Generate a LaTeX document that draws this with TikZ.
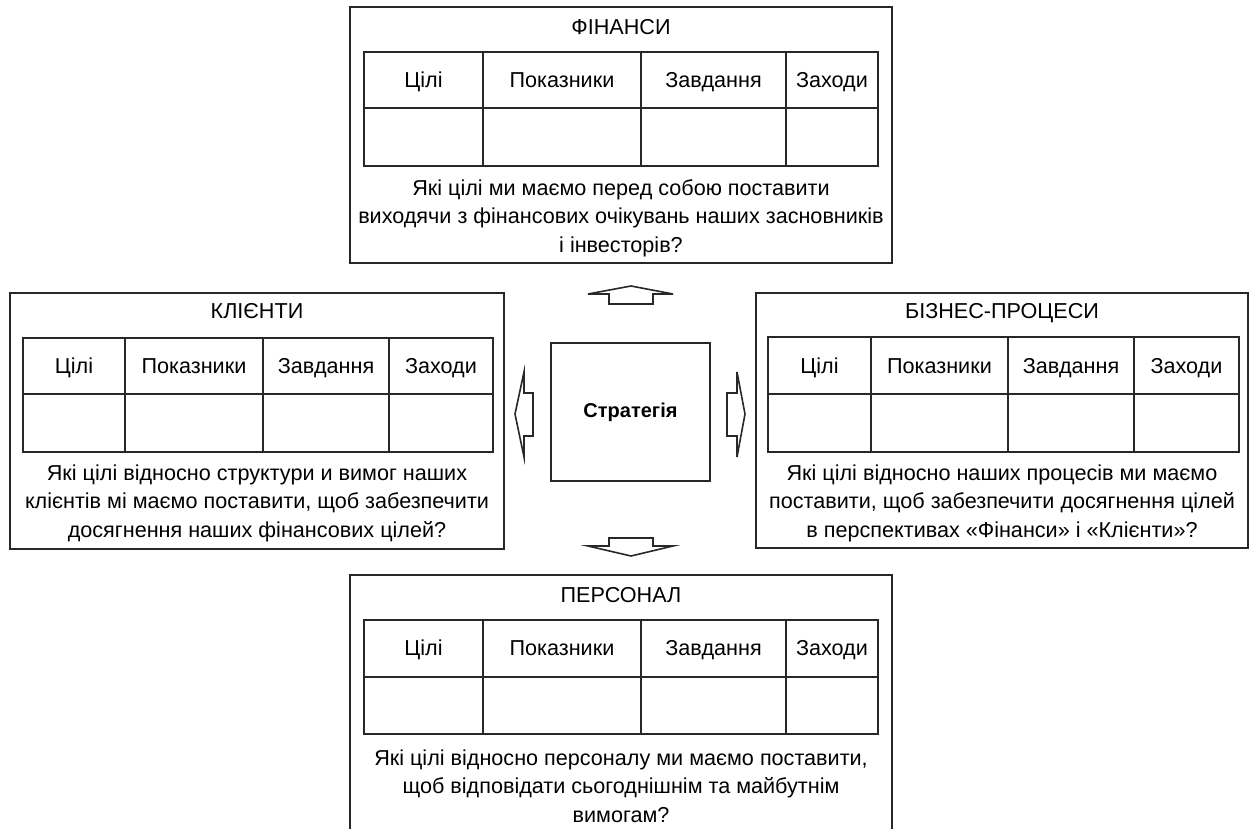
\documentclass[tikz,border=0pt]{standalone}
\usepackage{fontspec}
\setmainfont{Liberation Sans}
\usetikzlibrary{positioning}
\definecolor{lineGray}{RGB}{40,40,40}
\tikzset{
  panel/.style={draw=lineGray,line width=1pt},
  grid line/.style={draw=lineGray,line width=1.25pt},
  block arrow/.style={draw=lineGray,line width=.8pt,line join=miter},
  persp title/.style={font=\fontsize{10.8}{14.25}\selectfont,text height=1.4ex,text depth=0pt,inner sep=0pt},
  cell head/.style={font=\fontsize{10.8}{14.25}\selectfont,text height=1.4ex,text depth=0pt,inner sep=0pt},
  question/.style={align=center,font=\fontsize{10.8}{14.25}\selectfont,inner sep=0pt},
  strategy/.style={panel,minimum width=79.5pt,minimum height=69pt,inner sep=0pt,font=\fontsize{10}{12}\selectfont\bfseries}
}
\begin{document}
\begin{tikzpicture}[x=.5pt,y=-.5pt]
        \useasboundingbox (0,0) rectangle (1249,829);
        % centre
        \node[strategy] (strat) at (630.5,412) {Стратегія};
        % top: finance
        \draw[panel] (350,7) rectangle (892,263);
        \node[persp title] (finTitle) at (621,27) {ФІНАНСИ};
        \draw[grid line] (364,52) rectangle (878,166);
        \draw[grid line] (364,108) -- (878,108);
        \foreach \c in {483,641,786}
          \draw[grid line] (\c,52) -- (\c,166);
        \foreach \x/\t [count=\i] in {423.5/Цілі,562/Показники,713.5/Завдання,832/Заходи}
          \node[cell head] (fin\i) at (\x,80) {\t};
        \node[question] (finQ) at (621,218) {Які цілі ми маємо перед собою поставити\\виходячи з фінансових очікувань наших засновників\\і інвесторів?};
        % left: clients
        \draw[panel] (10,293) rectangle (504,549);
        \node[persp title] (cliTitle) at (257,311) {КЛІЄНТИ};
        \draw[grid line] (23,338) rectangle (493,452);
        \draw[grid line] (23,394) -- (493,394);
        \foreach \c in {125,263,389}
          \draw[grid line] (\c,338) -- (\c,452);
        \foreach \x/\t [count=\i] in {74/Цілі,194/Показники,326/Завдання,441/Заходи}
          \node[cell head] (cli\i) at (\x,366) {\t};
        \node[question] (cliQ) at (257,503) {Які цілі відносно структури и вимог наших\\клієнтів мі маємо поставити, щоб забезпечити\\досягнення наших фінансових цілей?};
        % right: business processes
        \draw[panel] (756,293) rectangle (1248,548);
        \node[persp title] (procTitle) at (1002,311) {БІЗНЕС-ПРОЦЕСИ};
        \draw[grid line] (768,337) rectangle (1239,452);
        \draw[grid line] (768,394) -- (1239,394);
        \foreach \c in {871,1008,1134}
          \draw[grid line] (\c,337) -- (\c,452);
        \foreach \x/\t [count=\i] in {819.5/Цілі,939.5/Показники,1071/Завдання,1186.5/Заходи}
          \node[cell head] (proc\i) at (\x,366) {\t};
        \node[question] (procQ) at (1002,503) {Які цілі відносно наших процесів ми маємо\\поставити, щоб забезпечити досягнення цілей\\в перспективах «Фінанси» і «Клієнти»?};
        % bottom: staff
        \draw[panel] (350,840) -- (350,575) -- (892,575) -- (892,840);
        \node[persp title] (staffTitle) at (621,595) {ПЕРСОНАЛ};
        \draw[grid line] (364,620) rectangle (878,734);
        \draw[grid line] (364,677) -- (878,677);
        \foreach \c in {483,641,786}
          \draw[grid line] (\c,620) -- (\c,734);
        \foreach \x/\t [count=\i] in {423.5/Цілі,562/Показники,713.5/Завдання,832/Заходи}
          \node[cell head] (staff\i) at (\x,648) {\t};
        \node[question] (staffQ) at (621,786) {Які цілі відносно персоналу ми маємо поставити,\\щоб відповідати сьогоднішнім та майбутнім\\вимогам?};
        % block arrows
        \draw[block arrow] (609,304) -- (609,294) -- (588,294) -- (631,286) -- (673,294) -- (653,294) -- (653,304) -- cycle;
        \draw[block arrow] (609,538) -- (653,538) -- (653,546) -- (673,546) -- (631,556) -- (588,546) -- (609,546) -- cycle;
        \draw[block arrow] (533,393) -- (524,393) -- (524,372) -- (515,414) -- (524,457) -- (524,436) -- (533,436) -- cycle;
        \draw[block arrow] (727,393) -- (737,393) -- (737,372) -- (745,414) -- (737,457) -- (737,436) -- (727,436) -- cycle;
\end{tikzpicture}
\end{document}
